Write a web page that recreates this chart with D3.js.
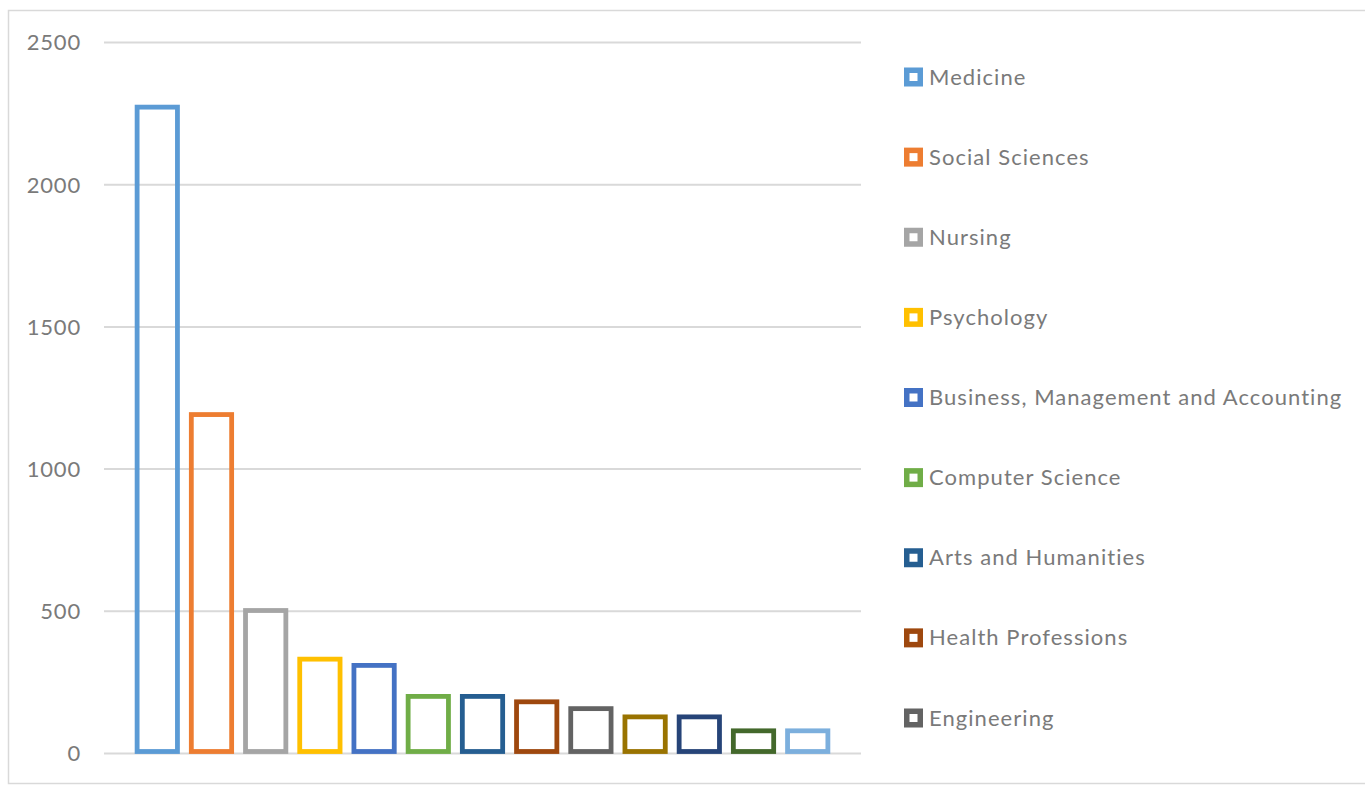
<!DOCTYPE html>
<html>
<head>
<meta charset="utf-8">
<script src="https://cdn.jsdelivr.net/npm/d3@7"></script>
<style>
  html, body { margin: 0; padding: 0; background: #ffffff; }
  svg { display: block; }
  text { font-family: Lato, "Open Sans", sans-serif; fill: #7a7a7a; }
</style>
</head>
<body>
<svg id="chart" width="1365" height="785"></svg>
<script>
// Publications by subject area (one series per subject)
const subjects = [
  "Medicine",
  "Social Sciences",
  "Nursing",
  "Psychology",
  "Business, Management and Accounting",
  "Computer Science",
  "Arts and Humanities",
  "Health Professions",
  "Engineering",
  "Environmental Science",
  "Economics, Econometrics and Finance",
  "Biochemistry, Genetics and Molecular Biology",
  "Neuroscience"
];
const counts = [2271, 1190, 501, 330, 308, 199, 199, 180, 156, 127, 127, 78, 78];
const colors = [
  "#5B9BD5", "#ED7D31", "#A5A5A5", "#FFC000", "#4472C4", "#70AD47",
  "#255E91", "#9E480E", "#636363", "#997300", "#264478", "#43682B", "#7CAFDD"
];
const yTicks = [0, 500, 1000, 1500, 2000, 2500];
// Legend only has room for the first nine entries
const legendCount = 9;

const svg = d3.select("#chart");

// Chart frame
svg.append("rect")
  .attr("x", 8.5).attr("y", 10.5)
  .attr("width", 1365).attr("height", 773)
  .attr("fill", "none")
  .attr("stroke", "#d9d9d9")
  .attr("stroke-width", 1.5);

const plot = { left: 104, right: 861, top: 42, bottom: 753 };

const y = d3.scaleLinear()
  .domain([0, 2500])
  .range([plot.bottom, plot.top]);

const x = d3.scaleBand()
  .domain(subjects)
  .range([plot.left, plot.right])
  .paddingInner(0.256)
  .paddingOuter(0.611);

// Horizontal gridlines and value labels
const yAxis = d3.axisLeft(y)
  .tickValues(yTicks)
  .tickSize(-(plot.right - plot.left))
  .tickPadding(23)
  .tickFormat(d3.format("d"));

const gy = svg.append("g")
  .attr("transform", `translate(${plot.left},0)`)
  .call(yAxis);
gy.select(".domain").remove();
gy.selectAll(".tick line")
  .attr("stroke", "#d9d9d9")
  .attr("stroke-width", 2);
gy.selectAll(".tick text")
  .attr("font-size", 22)
  .attr("letter-spacing", "0.8px")
  .attr("fill", "#7a7a7a")
  .attr("dy", "0.36em");

// Outlined bars
const sw = 4.8;
svg.append("g")
  .selectAll("rect")
  .data(subjects)
  .join("rect")
  .attr("x", d => x(d))
  .attr("width", x.bandwidth())
  .attr("y", (d, i) => y(counts[i]))
  .attr("height", (d, i) => y(0) - y(counts[i]) - 1.5)
  .attr("fill", "none")
  .attr("stroke", (d, i) => colors[i])
  .attr("stroke-width", sw);

// Legend
const legend = svg.append("g");
const legendY = d3.scaleLinear().domain([0, 8]).range([77, 718]);
const items = legend.selectAll("g")
  .data(subjects.slice(0, legendCount))
  .join("g")
  .attr("transform", (d, i) => `translate(904,${legendY(i)})`);

items.append("rect")
  .attr("x", 2.75).attr("y", -6.75)
  .attr("width", 13.5).attr("height", 13.5)
  .attr("fill", "#ffffff")
  .attr("stroke", (d, i) => colors[i])
  .attr("stroke-width", 5.5);

items.append("text")
  .attr("x", 25)
  .attr("y", 7.5)
  .attr("font-size", 22)
  .attr("letter-spacing", "1.05px")
  .text(d => d);
</script>
</body>
</html>
